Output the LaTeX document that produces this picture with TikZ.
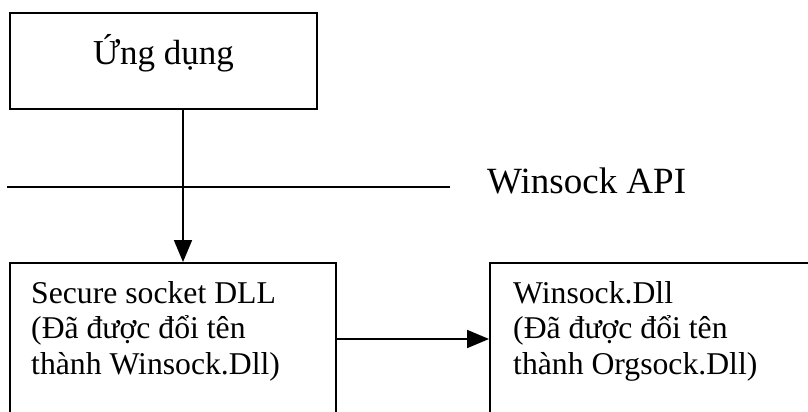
\documentclass[tikz,border=0pt]{standalone}
\usepackage{fontspec}
\setmainfont{Liberation Serif}
\usetikzlibrary{arrows.meta}
\tikzset{
  x=1pt, y=1pt,
  boxshape/.style={draw, line width=1.9pt, rectangle, inner sep=0pt},
  flow/.style={line width=1.8pt, -{Triangle[width=18pt,length=22pt]}},
  bigtext/.style={font=\fontsize{37}{44}\selectfont, inner sep=0pt},
  boxtext/.style={font=\fontsize{31.7}{35.5}\selectfont, align=left, inner sep=0pt, anchor=base west}
}
\begin{document}
\begin{tikzpicture}
\useasboundingbox (0,0) rectangle (808,-412);
\clip (0,0) rectangle (808,-412);

% application box
\node[boxshape, minimum width=307pt, minimum height=96pt] (app) at (163.5,-61) {};
\node[bigtext, font=\fontsize{35}{42}\selectfont, anchor=base] (apptext) at (163.5,-65) {Ứng dụng};

% Winsock API layer
\coordinate (apiL) at (7,-187);
\coordinate (apiR) at (450,-187);
\draw[line width=2pt] (apiL) -- (apiR);
\node[bigtext, anchor=base west] (apitext) at (487,-193) {Winsock API};

% lower boxes, running past the bottom edge
\node[boxshape, minimum width=326pt, minimum height=152pt] (sec) at (173,-339) {};
\node[boxshape, minimum width=340pt, minimum height=152pt] (win) at (660,-339) {};

\node[boxtext] (sectext) at (31,-374) {Secure socket DLL\\(Đã được đổi tên\\thành Winsock.Dll)};
\node[boxtext] (wintext) at (513,-374) {Winsock.Dll\\(Đã được đổi tên\\thành Orgsock.Dll)};

% connectors
\coordinate (ax) at (183,0);
\draw[flow] (app.south -| ax) -- (sec.north -| ax);
\draw[flow] (sec.east) -- (win.west);
\end{tikzpicture}
\end{document}
